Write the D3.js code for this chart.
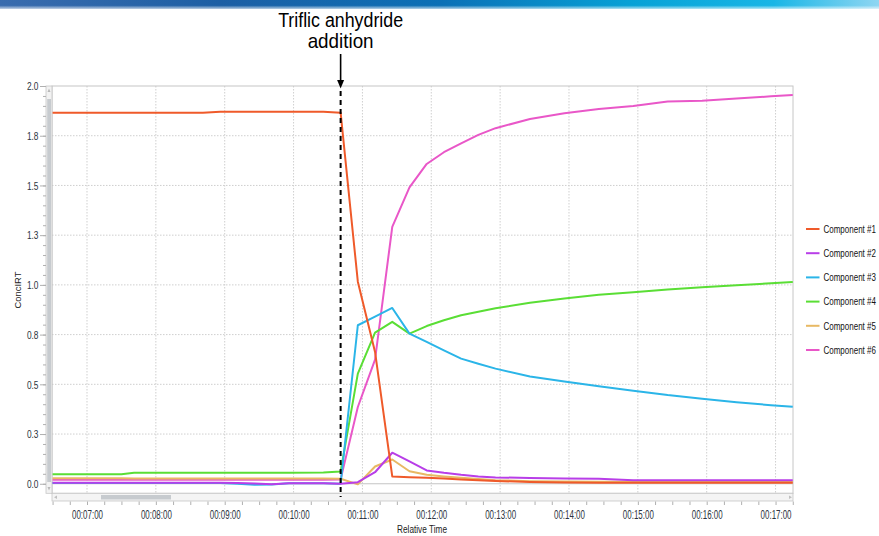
<!DOCTYPE html>
<html>
<head>
<meta charset="utf-8">
<script src="https://cdn.jsdelivr.net/npm/d3@7"></script>
<style>
  html, body { margin: 0; padding: 0; background: #fff; }
  svg { display: block; font-family: "Liberation Sans", Arial, sans-serif; }
</style>
</head>
<body>
<svg id="chart" width="879" height="536"></svg>
<script>
// Sample times (mm:ss of relative run time)
const times = [
  "06:30","07:30","07:41","08:41","08:56","09:11","09:26","09:41","09:56","10:26",
  "10:41","10:56","11:11","11:26","11:41","11:56","12:11","12:26","12:41","12:56",
  "13:26","13:56","14:26","14:56","15:26","15:56","16:26","16:56","17:15"
];

// Concentration trends (ConcIRT) per component
const component1 = [
  1.866,1.866,1.866,1.866,1.871,1.871,1.871,1.871,1.871,1.871,
  1.866,1.016,0.663,0.037,0.033,0.030,0.026,0.022,0.018,0.014,
  0.009,0.006,0.005,0.005,0.005,0.005,0.005,0.005,0.005
];
const component2 = [
  0.005,0.005,0.005,0.005,0.005,0.004,0.001,-0.002,0.003,0.002,
  0.000,0.008,0.058,0.156,0.112,0.067,0.055,0.045,0.037,0.032,
  0.029,0.027,0.025,0.018,0.018,0.018,0.018,0.018,0.018
];
const component3 = [
  0.004,0.004,0.004,0.004,0.004,0.000,-0.005,-0.004,0.002,0.002,
  0.000,0.797,0.840,0.884,0.755,0.713,0.671,0.629,0.603,0.579,
  0.539,0.514,0.490,0.468,0.446,0.428,0.410,0.395,0.387
];
const component4 = [
  0.048,0.048,0.055,0.055,0.055,0.055,0.055,0.055,0.055,0.056,
  0.062,0.554,0.760,0.814,0.755,0.793,0.822,0.847,0.865,0.882,
  0.910,0.932,0.950,0.963,0.977,0.988,0.998,1.008,1.014
];
const component5 = [
  0.028,0.028,0.026,0.026,0.026,0.026,0.026,0.026,0.026,0.027,
  0.025,-0.003,0.087,0.122,0.063,0.045,0.037,0.030,0.024,0.018,
  0.013,0.011,0.010,0.010,0.010,0.010,0.012,0.010,0.010
];
const component6 = [
  0.020,0.020,0.020,0.020,0.020,0.020,0.020,0.020,0.020,0.020,
  0.022,0.386,0.624,1.292,1.490,1.608,1.667,1.712,1.754,1.788,
  1.834,1.863,1.884,1.900,1.922,1.926,1.937,1.948,1.955
];

const seriesNames = ["Component #1","Component #2","Component #3","Component #4","Component #5","Component #6"];
const seriesValues = [component1, component2, component3, component4, component5, component6];
const seriesColors = ["#ef5a2a","#b83ee8","#2bb5e8","#5ade35","#e8b964","#e957c8"];

// Axis ticks
const xTickTimes  = ["07:00","08:00","09:00","10:00","11:00","12:00","13:00","14:00","15:00","16:00","17:00"];
const xTickLabels = ["00:07:00","00:08:00","00:09:00","00:10:00","00:11:00","00:12:00","00:13:00","00:14:00","00:15:00","00:16:00","00:17:00"];
const yTickValues = [0, 0.25, 0.5, 0.75, 1.0, 1.25, 1.5, 1.75, 2.0];
const yTickLabels = ["0.0","0.3","0.5","0.8","1.0","1.3","1.5","1.8","2.0"];

// Reagent addition event
const additionTime = "10:41";
const annotationLines = ["Triflic anhydride", "addition"];

const toSec = s => { const [m, sec] = s.split(":").map(Number); return m * 60 + sec; };

// Narrow a text horizontally to a given width (the chart uses a condensed face)
function squeeze(textNode, width, anchorX) {
  const natural = textNode.getComputedTextLength();
  const s = natural > 0 ? width / natural : 1;
  d3.select(textNode).attr("transform", `translate(${anchorX},0) scale(${s},1) translate(${-anchorX},0)`);
}

const svg = d3.select("#chart");
const plot = { left: 52, right: 793, top: 86, bottom: 493.3 };

const x = d3.scaleLinear().domain([389.5, 1035.2]).range([plot.left, plot.right]);
const y = d3.scaleLinear().domain([-0.048, 2.0]).range([plot.bottom, plot.top]);

const defs = svg.append("defs");

// Header banner gradient
const bg = defs.append("linearGradient").attr("id", "banner").attr("x1", "0").attr("x2", "1").attr("y1", "0").attr("y2", "0");
[["0%", "#3a6cae"], ["25%", "#1d5fa4"], ["50%", "#0b70b6"], ["72%", "#07a2d6"], ["88%", "#18b6e6"], ["100%", "#8fd6f2"]]
  .forEach(([o, c]) => bg.append("stop").attr("offset", o).attr("stop-color", c));
const bf = defs.append("linearGradient").attr("id", "bannerFade").attr("x1", "0").attr("x2", "0").attr("y1", "0").attr("y2", "1");
bf.append("stop").attr("offset", "0%").attr("stop-color", "#fff").attr("stop-opacity", 0);
bf.append("stop").attr("offset", "60%").attr("stop-color", "#fff").attr("stop-opacity", 0);
bf.append("stop").attr("offset", "100%").attr("stop-color", "#fff").attr("stop-opacity", 0.7);

svg.append("rect").attr("x", 0).attr("y", 0).attr("width", 879).attr("height", 9).attr("fill", "url(#banner)");
svg.append("rect").attr("x", 0).attr("y", 0).attr("width", 879).attr("height", 9).attr("fill", "url(#bannerFade)");

defs.append("clipPath").attr("id", "plotClip")
  .append("rect").attr("x", plot.left).attr("y", plot.top)
  .attr("width", plot.right - plot.left).attr("height", plot.bottom - plot.top);

// Grid
const grid = svg.append("g");
grid.selectAll("line.vg").data(xTickTimes).join("line")
  .attr("x1", d => x(toSec(d))).attr("x2", d => x(toSec(d)))
  .attr("y1", plot.top).attr("y2", plot.bottom)
  .attr("stroke", "#cfcfcf").attr("stroke-width", 1).attr("stroke-dasharray", "1.5,1.5");
grid.selectAll("line.hg").data(yTickValues.filter(v => v > 0 && v < 2)).join("line")
  .attr("x1", plot.left).attr("x2", plot.right)
  .attr("y1", d => y(d)).attr("y2", d => y(d))
  .attr("stroke", "#cfcfcf").attr("stroke-width", 1).attr("stroke-dasharray", "1.5,1.5");
grid.append("line").attr("x1", plot.left).attr("x2", plot.right)
  .attr("y1", y(0)).attr("y2", y(0)).attr("stroke", "#c4c4c4").attr("stroke-width", 1);

// Frame
svg.append("rect").attr("x", plot.left).attr("y", plot.top)
  .attr("width", plot.right - plot.left).attr("height", plot.bottom - plot.top)
  .attr("fill", "none").attr("stroke", "#c6c6c6").attr("stroke-width", 1);

// Vertical scrollbar
svg.append("rect").attr("x", 46).attr("y", plot.top).attr("width", 6).attr("height", plot.bottom - plot.top)
  .attr("fill", "#f2f2f2").attr("stroke", "#c6c6c6").attr("stroke-width", 0.8);
svg.append("rect").attr("x", 47.2).attr("y", 99).attr("width", 3.8).attr("height", 383)
  .attr("fill", "#c7cbcf");
svg.append("path").attr("d", "M47.5,92 L49,88.5 L50.5,92 Z").attr("fill", "#b8b8b8");
svg.append("path").attr("d", "M47.5,487 L49,490.5 L50.5,487 Z").attr("fill", "#b8b8b8");

// Horizontal scrollbar
svg.append("rect").attr("x", plot.left).attr("y", plot.bottom).attr("width", plot.right - plot.left).attr("height", 7.7)
  .attr("fill", "#f4f4f4").attr("stroke", "#c6c6c6").attr("stroke-width", 0.8);
svg.append("rect").attr("x", 101).attr("y", 495).attr("width", 70).attr("height", 4.5).attr("fill", "#c7cbcf");
svg.append("path").attr("d", "M57,495.5 L54,497.3 L57,499 Z").attr("fill", "#c0c0c0");
svg.append("path").attr("d", "M789,495.5 L792,497.3 L789,499 Z").attr("fill", "#c0c0c0");

// X axis ticks (every 15 s) and minute labels
const minorX = d3.range(toSec("06:30"), toSec("17:15") + 1, 15);
const xMinor = d3.axisBottom(x).tickValues(minorX).tickSize(3.5).tickFormat("");
const gxMinor = svg.append("g").attr("transform", "translate(0,501.5)").call(xMinor);
gxMinor.select(".domain").remove();
gxMinor.selectAll(".tick line").attr("stroke", "#b0b0b0");

const xMajor = d3.axisBottom(x).tickValues(xTickTimes.map(toSec)).tickSize(0)
  .tickFormat((d, i) => xTickLabels[i]);
const gx = svg.append("g").attr("transform", "translate(0,509)").call(xMajor);
gx.select(".domain").remove();
gx.selectAll(".tick text")
  .attr("fill", "#2c3440").attr("font-size", 12).attr("dy", "0.71em").attr("y", 1)
  .each(function () { squeeze(this, 31, 0); });

// Y axis ticks (major 0.25 with labels, minor 0.05)
const minorY = d3.range(0, 41).map(i => i * 0.05);
const yMinor = d3.axisLeft(y).tickValues(minorY).tickSize(3).tickFormat("");
const gyMinor = svg.append("g").attr("transform", "translate(46,0)").call(yMinor);
gyMinor.select(".domain").remove();
gyMinor.selectAll(".tick line").attr("stroke", "#b0b0b0");

const yMajor = d3.axisLeft(y).tickValues(yTickValues).tickSize(6)
  .tickFormat((d, i) => yTickLabels[i]);
const gy = svg.append("g").attr("transform", "translate(46,0)").call(yMajor);
gy.select(".domain").remove();
gy.selectAll(".tick line").attr("stroke", "#b0b0b0");
gy.selectAll(".tick text")
  .attr("fill", "#2c3440").attr("font-size", 11).attr("x", -7.5).attr("dy", "0.34em")
  .each(function () { squeeze(this, 11.6, -7.5); });

// Axis titles
svg.append("text").attr("x", 422).attr("y", 533).attr("text-anchor", "middle")
  .attr("font-size", 11).attr("fill", "#222").text("Relative Time")
  .each(function () { squeeze(this, 50, 422); });
svg.append("g").attr("transform", "translate(20.5,290) rotate(-90)")
  .append("text").attr("x", 0).attr("y", 0).attr("text-anchor", "middle")
  .attr("font-size", 9.5).attr("fill", "#222").text("ConcIRT")
  .each(function () { squeeze(this, 37, 0); });

// Component traces
const tSec = times.map(toSec);
const line = d3.line().x((d, i) => x(tSec[i])).y(d => y(d));
const traces = svg.append("g").attr("clip-path", "url(#plotClip)");
d3.range(seriesValues.length).reverse().forEach(k => {
  traces.append("path").datum(seriesValues[k])
    .attr("d", line)
    .attr("fill", "none")
    .attr("stroke", seriesColors[k])
    .attr("stroke-width", 2)
    .attr("stroke-linejoin", "round");
});

// Addition marker: dashed line, arrow and note
const ax = x(toSec(additionTime));
svg.append("line").attr("x1", ax).attr("x2", ax).attr("y1", 91).attr("y2", 497)
  .attr("stroke", "#000").attr("stroke-width", 2).attr("stroke-dasharray", "5,4");
svg.append("line").attr("x1", ax).attr("x2", ax).attr("y1", 54).attr("y2", 82)
  .attr("stroke", "#000").attr("stroke-width", 1.6);
svg.append("path").attr("d", `M${ax - 3.5},80 L${ax + 3.5},80 L${ax},88.5 Z`).attr("fill", "#000");

const noteWidths = [125, 66];
svg.append("g").selectAll("text").data(annotationLines).join("text")
  .attr("x", ax).attr("y", (d, i) => 27 + i * 21.5)
  .attr("text-anchor", "middle").attr("font-size", 20).attr("fill", "#000")
  .text(d => d)
  .each(function (d, i) { squeeze(this, noteWidths[i], ax); });

// Legend
const legend = svg.append("g");
seriesNames.forEach((name, i) => {
  const ly = 229 + i * 24.2;
  legend.append("line").attr("x1", 806).attr("x2", 819.5).attr("y1", ly).attr("y2", ly)
    .attr("stroke", seriesColors[i]).attr("stroke-width", 2);
  legend.append("text").attr("x", 823.5).attr("y", ly + 3.8)
    .attr("font-size", 11).attr("fill", "#111").text(name)
    .each(function () { squeeze(this, 52.5, 823.5); });
});
</script>
</body>
</html>
